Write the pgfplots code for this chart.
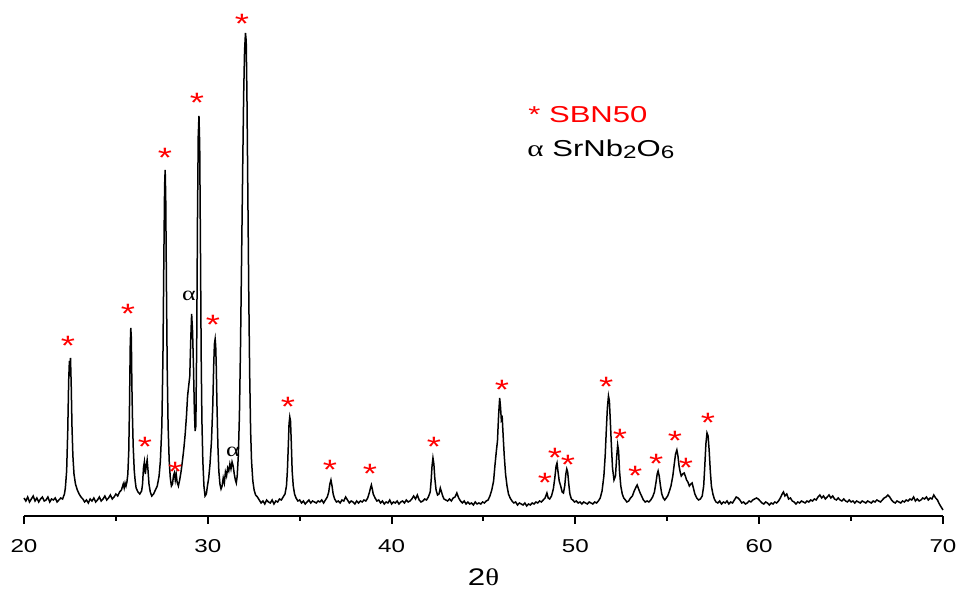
\documentclass[border=0pt]{standalone}
\usepackage{fontspec}
\setmainfont{Liberation Sans}
\newfontfamily\serifgr{Liberation Serif}
\usepackage{graphicx}
\usepackage{pgfplots}
\pgfplotsset{compat=1.18}
\newcommand\sx[1]{\scalebox{1.3}[1]{#1}}
\begin{document}
\begin{tikzpicture}
\begin{axis}[
  scale only axis,
  width=459.5pt, height=258pt,
  xmin=20, xmax=70, ymin=0, ymax=516,
  clip=false,
  axis x line*=bottom,
  axis y line=none,
  axis line style={line width=1pt},
  xtick={20,30,40,50,60,70},
  xticklabels={\sx{20},\sx{30},\sx{40},\sx{50},\sx{60},\sx{70}},
  minor xtick={25,35,45,55,65},
  tick align=outside,
  major tick length=4pt,
  minor tick length=2.5pt,
  tick style={line width=1pt, black},
  xticklabel style={font=\fontsize{9.3}{10}\selectfont, yshift=-4pt},
  xlabel={\sx{2}{\serifgr\scalebox{1.2}[1]{θ}}},
  xlabel style={font=\fontsize{12}{13}\selectfont, at={(axis description cs:0.5,0)}, anchor=base, yshift=-35pt},
]
\addplot[black, line width=0.75pt] coordinates {
(20.0,18) (20.1,15) (20.2,19) (20.3,14) (20.4,17) (20.5,20) (20.6,15) (20.7,18) (20.8,14) (20.9,17)
(21.0,19) (21.1,15) (21.2,16) (21.3,19) (21.4,14) (21.5,17) (21.6,16) (21.7,18) (21.8,14) (21.9,16)
(22.0,18) (22.1,17) (22.2,22) (22.25,28) (22.32,45) (22.38,85) (22.43,135) (22.47,155) (22.50,140)
(22.53,158) (22.57,130) (22.61,90) (22.66,60) (22.72,42) (22.8,32) (22.9,26) (23.0,22) (23.1,19)
(23.2,17) (23.3,14) (23.4,16) (23.5,13) (23.6,17) (23.7,15) (23.8,18) (23.9,14) (24.0,16) (24.1,19)
(24.2,15) (24.3,17) (24.4,20) (24.5,16) (24.6,18) (24.7,21) (24.8,17) (24.9,19) (25.0,22) (25.1,20)
(25.2,24) (25.3,26) (25.4,32) (25.45,28) (25.5,33) (25.55,30) (25.6,34)
(25.65,42) (25.7,65) (25.74,110) (25.78,170) (25.81,188) (25.84,178) (25.87,130) (25.9,100) (25.94,70)
(26.0,45) (26.05,35) (26.1,28) (26.2,24) (26.3,22) (26.4,25)
(26.45,32) (26.5,48) (26.55,54) (26.6,42) (26.65,50) (26.7,56) (26.75,45) (26.8,32) (26.87,24) (26.95,20)
(27.05,22) (27.15,26) (27.25,30) (27.35,40)
(27.42,55) (27.5,90) (27.56,160) (27.61,260) (27.65,330) (27.68,346) (27.71,320) (27.75,230) (27.79,150)
(27.84,90) (27.9,55) (27.96,38) (28.02,30)
(28.08,32) (28.13,40) (28.18,43) (28.23,36) (28.28,42) (28.33,34) (28.4,30)
(28.47,36) (28.55,45) (28.62,55) (28.7,68) (28.77,82) (28.84,100) (28.9,120) (28.96,130) (29.02,140)
(29.07,175) (29.12,202) (29.17,185) (29.22,150) (29.27,105) (29.31,85) (29.35,90) (29.4,180) (29.44,300)
(29.48,380) (29.52,400) (29.56,370) (29.6,270) (29.64,160) (29.68,95) (29.73,55) (29.79,30) (29.85,20)
(29.92,22) (29.98,30)
(30.05,38) (30.12,52) (30.2,75) (30.27,110) (30.32,150) (30.36,172) (30.4,177) (30.43,170) (30.46,150)
(30.5,110) (30.55,70) (30.6,45) (30.66,32) (30.72,27) (30.78,30) (30.84,38) (30.9,33) (30.96,44)
(31.02,40) (31.08,48) (31.14,45) (31.2,52) (31.26,47) (31.32,54) (31.38,50) (31.44,42) (31.5,36) (31.55,33)
(31.6,40) (31.66,60) (31.72,100) (31.78,170) (31.84,260) (31.9,350) (31.95,420) (32.0,465) (32.05,483)
(32.09,475) (32.13,420) (32.18,320) (32.23,220) (32.28,140) (32.33,85) (32.38,55) (32.45,35) (32.52,26)
(32.6,21) (32.7,19)
(32.8,16) (32.9,13) (33.0,15) (33.1,12) (33.2,16) (33.3,14) (33.4,13) (33.5,16) (33.6,12) (33.7,15)
(33.8,14) (33.9,17) (34.0,16) (34.1,19) (34.2,22) (34.28,30)
(34.33,45) (34.38,70) (34.42,92) (34.46,99) (34.5,95) (34.54,75) (34.59,45) (34.65,30) (34.72,22) (34.8,18)
(34.9,15) (35.0,16) (35.1,13) (35.2,15) (35.3,12) (35.4,14) (35.5,16) (35.6,13) (35.7,15) (35.8,14)
(35.9,13) (36.0,15) (36.1,14) (36.2,16) (36.3,13) (36.4,16) (36.5,19) (36.58,24)
(36.64,32) (36.7,36) (36.76,30) (36.82,22) (36.9,17) (37.0,14) (37.1,15) (37.2,13) (37.3,16) (37.4,15)
(37.5,19) (37.6,16) (37.7,13) (37.8,15) (37.9,14) (38.0,12) (38.1,15) (38.2,13) (38.3,15) (38.4,14)
(38.5,16) (38.6,15) (38.7,18) (38.8,24)
(38.85,28) (38.9,31) (38.95,27) (39.0,22) (39.1,18) (39.2,15) (39.3,16) (39.4,13) (39.5,15) (39.6,12)
(39.7,14) (39.8,13) (39.9,16) (40.0,12) (40.1,14) (40.2,13) (40.3,15) (40.4,12) (40.5,14) (40.6,15)
(40.7,13) (40.8,16) (40.9,14) (41.0,15) (41.1,17) (41.2,20) (41.3,17) (41.4,21) (41.5,16) (41.6,14)
(41.7,15) (41.8,17) (41.9,16) (42.0,19) (42.1,24)
(42.15,35) (42.2,50) (42.25,58) (42.3,52) (42.35,38) (42.42,26) (42.5,21) (42.58,22) (42.65,28) (42.7,25)
(42.78,20) (42.85,17) (42.95,16) (43.05,15) (43.15,17) (43.25,15) (43.35,18) (43.45,19) (43.55,23) (43.65,18)
(43.75,15) (43.85,13) (43.95,15) (44.05,12) (44.15,14) (44.25,12) (44.35,13) (44.45,11) (44.55,14) (44.65,12)
(44.75,13) (44.85,12) (44.95,14) (45.05,13) (45.15,15) (45.25,16) (45.35,20) (45.45,26) (45.55,35) (45.62,50)
(45.7,65) (45.76,75) (45.82,100) (45.88,118) (45.93,108) (45.97,96) (46.02,98) (46.07,80) (46.13,60) (46.2,42)
(46.28,30) (46.36,22) (46.45,18) (46.55,15) (46.65,13) (46.75,14) (46.85,11) (46.95,13) (47.05,12) (47.15,11)
(47.25,13) (47.35,10) (47.45,12) (47.55,11) (47.65,13) (47.75,12) (47.85,14) (47.95,13) (48.05,15) (48.15,14)
(48.25,16) (48.35,18) (48.45,23) (48.52,18) (48.6,17) (48.7,20) (48.8,27)
(48.88,38) (48.95,50) (49.0,53) (49.05,45) (49.12,35) (49.2,30) (49.28,24) (49.35,23) (49.42,30) (49.48,42)
(49.53,47) (49.58,44) (49.64,32) (49.7,22) (49.78,17) (49.86,16) (49.95,14) (50.05,15) (50.15,13) (50.25,14)
(50.35,12) (50.45,14) (50.55,13) (50.65,12) (50.75,14) (50.85,13) (50.95,12) (51.05,14) (51.15,13) (51.25,15)
(51.35,18) (51.45,25) (51.55,40) (51.62,60) (51.68,85) (51.74,108) (51.8,120) (51.85,115) (51.9,95) (51.96,70)
(52.02,48) (52.1,36) (52.18,40) (52.25,60) (52.3,71) (52.35,65) (52.4,45) (52.47,30) (52.55,22) (52.63,18)
(52.72,16) (52.8,14) (52.9,15) (53.0,18) (53.1,20) (53.2,25) (53.3,29) (53.36,31) (53.42,28) (53.5,24)
(53.6,20) (53.7,16) (53.8,14) (53.9,15) (54.0,14) (54.1,16) (54.2,19) (54.3,24) (54.38,33) (54.45,42)
(54.5,45) (54.56,40) (54.63,30) (54.7,22) (54.78,18) (54.86,16) (54.94,18) (55.02,20) (55.1,24) (55.2,30)
(55.3,40) (55.38,52) (55.45,62) (55.52,66) (55.58,60) (55.64,50) (55.7,44) (55.76,40) (55.84,42) (55.92,43)
(55.98,40) (56.05,36) (56.12,34) (56.2,30) (56.28,32) (56.35,33) (56.42,28) (56.5,22) (56.6,18) (56.7,16)
(56.8,17) (56.9,20) (56.98,30) (57.04,50) (57.1,72) (57.16,83) (57.22,80) (57.28,65) (57.34,45) (57.4,30)
(57.48,22) (57.56,17) (57.65,14) (57.75,13) (57.85,15) (57.95,12) (58.05,14) (58.15,13) (58.25,15) (58.35,12)
(58.45,14) (58.55,13) (58.65,16) (58.75,19) (58.85,18) (58.95,16) (59.05,13) (59.15,14) (59.25,12) (59.35,13)
(59.45,15) (59.55,14) (59.65,16) (59.75,17) (59.85,18) (59.95,17) (60.05,15) (60.15,13) (60.25,12) (60.35,14)
(60.45,13) (60.55,11) (60.65,13) (60.75,12) (60.85,14) (60.95,13) (61.05,15) (61.15,18) (61.25,22) (61.32,24)
(61.4,20) (61.5,22) (61.6,17) (61.7,18) (61.8,15) (61.9,14) (62.0,12) (62.1,14) (62.2,13) (62.3,15)
(62.4,14) (62.5,13) (62.6,15) (62.7,14) (62.8,16) (62.9,15) (63.0,17) (63.1,16) (63.2,19) (63.3,21)
(63.4,18) (63.5,20) (63.6,17) (63.7,19) (63.8,21) (63.9,18) (64.0,20) (64.1,17) (64.2,16) (64.3,18)
(64.4,16) (64.5,15) (64.6,17) (64.7,15) (64.8,14) (64.9,16) (65.0,14) (65.1,15) (65.2,13) (65.3,15)
(65.4,14) (65.5,13) (65.6,15) (65.7,14) (65.8,13) (65.9,15) (66.0,14) (66.1,13) (66.2,15) (66.3,14)
(66.4,16) (66.5,15) (66.6,14) (66.7,16) (66.8,18) (66.9,19) (67.0,21) (67.1,19) (67.2,16) (67.3,14)
(67.4,13) (67.5,15) (67.6,14) (67.7,13) (67.8,15) (67.9,14) (68.0,16) (68.1,15) (68.2,17) (68.3,16)
(68.4,19) (68.5,15) (68.6,17) (68.7,15) (68.8,16) (68.9,18) (69.0,17) (69.1,19) (69.2,16) (69.3,18)
(69.4,17) (69.5,21) (69.6,18) (69.7,16) (69.8,12) (69.9,9) (70.0,6)
};
\addplot[only marks, red, mark=text, text mark={\sx{*}}, text mark as node=true,
  text mark style={font=\fontsize{14}{14}\selectfont, anchor=base, yshift=-8pt, inner sep=0pt}] coordinates {
(22.39,176) (25.66,208) (26.58,75) (27.67,364) (28.22,50) (29.41,419) (30.28,197) (31.86,498)
(34.36,115) (36.65,52) (38.82,48) (42.31,75) (46.01,132) (48.35,39) (48.89,64) (49.60,57)
(51.67,135) (52.43,83) (53.25,46) (54.39,58) (55.42,81) (56.02,54) (57.21,99)
};
\addplot[only marks, black, mark=text, text mark={\serifgr\scalebox{1.3}[1]{α}}, text mark as node=true,
  text mark style={font=\fontsize{10}{12}\selectfont, inner sep=0pt}] coordinates {
(28.98,220) (31.37,64)
};
\node[anchor=base west, red, inner sep=0pt, font=\fontsize{11.5}{12}\selectfont] at (axis cs:47.42,393) {\scalebox{1.35}[1]{* SBN50}};
\node[anchor=base west, black, inner sep=0pt, font=\fontsize{11.5}{12}\selectfont] at (axis cs:47.37,359) {\scalebox{1.35}[1]{{\serifgr α} SrNb{\fontsize{9}{10}\selectfont\raisebox{-1pt}{2}}O{\fontsize{9}{10}\selectfont\raisebox{-1pt}{6}}}};
\coordinate (bl) at (axis cs:18.694,-76);
\coordinate (tr) at (axis cs:70.98,516);
\end{axis}
\pgfresetboundingbox
\path[use as bounding box] (bl) rectangle (tr);
\end{tikzpicture}
\end{document}
